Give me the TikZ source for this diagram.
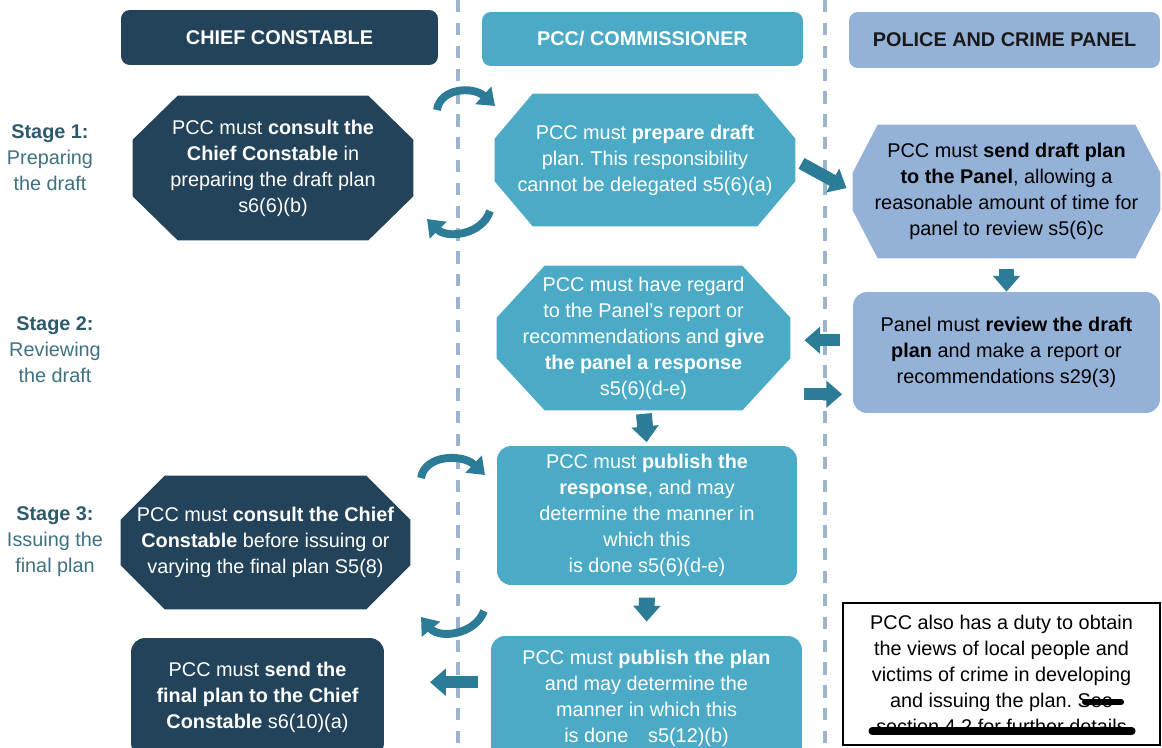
\documentclass[tikz,border=0pt]{standalone}
\usepackage{fontspec}
\setmainfont{Liberation Sans}
\usetikzlibrary{arrows.meta,positioning}
\frenchspacing

\definecolor{ccnavy}{HTML}{22435A}
\definecolor{pccteal}{HTML}{4BABC6}
\definecolor{panblue}{HTML}{94B2D8}
\definecolor{arrteal}{HTML}{2C7C97}
\definecolor{lanegrey}{HTML}{9DB5CC}
\definecolor{stagedark}{HTML}{2D5B6C}
\definecolor{stagetext}{HTML}{3F7182}

\pgfdeclarelayer{background}
\pgfsetlayers{background,main}

% octagon behind a node: node, colour, corner cut in x and y (px)
\newcommand{\octfill}[4]{%
  \begin{pgfonlayer}{background}
    \fill[#2] ([xshift={#3*0.02cm}]#1.north west) -- ([xshift={-#3*0.02cm}]#1.north east)
      -- ([yshift={-#4*0.02cm}]#1.north east) -- ([yshift={#4*0.02cm}]#1.south east)
      -- ([xshift={-#3*0.02cm}]#1.south east) -- ([xshift={#3*0.02cm}]#1.south west)
      -- ([yshift={#4*0.02cm}]#1.south west) -- ([yshift={-#4*0.02cm}]#1.north west) -- cycle;
  \end{pgfonlayer}}

\begin{document}
\begin{tikzpicture}
        [x=0.02cm,y=-0.02cm,
         every node/.style={font=\fontsize{11.3}{14.8}\selectfont,align=center,inner sep=0pt,rectangle},
         head/.style={rounded corners=5pt,font=\fontsize{11.3}{14.8}\selectfont\bfseries},
         cctext/.style={text=white},
         pcctext/.style={text=white},
         pantext/.style={text=black},
         ccbox/.style={cctext,fill=ccnavy},
         pccbox/.style={pcctext,fill=pccteal},
         panbox/.style={pantext,fill=panblue},
         roundbox/.style={rounded corners=8pt},
         stagelbl/.style={text=stagetext},
         blk/.style={draw=arrteal,line width=7pt,-{Triangle[length=9pt,width=15pt]}},
         curv/.style={draw=arrteal,line width=4.5pt,-{Triangle[length=9pt,width=13pt]}},
         lane/.style={draw=lanegrey,line width=1.8pt,dash pattern=on 7pt off 6pt}]

        \useasboundingbox (0,0) rectangle (1162,747);
        \begin{pgfonlayer}{background}
          \fill[white] (0,0) rectangle (1162,747);
        \end{pgfonlayer}

        % lane separators
        \draw[lane] (458,0) -- (458,747);
        \draw[lane] (825,0) -- (825,747);

        % column headings
        \node[head,ccbox,minimum width=6.34cm,minimum height=1.1cm] (hcc) at (279.5,37.5) {CHIEF CONSTABLE};
        \node[head,pccbox,minimum width=6.42cm,minimum height=1.08cm] (hpcc) at (642.5,39) {PCC/ COMMISSIONER};
        \node[head,panbox,text=black!90,minimum width=6.22cm,minimum height=1.12cm] (hpan) at (1004.5,40) {POLICE AND CRIME PANEL};

        % stages
        \node[stagelbl] (st1) at (50,158) {\textcolor{stagedark}{\textbf{Stage 1:}}\\Preparing\\the draft};
        \node[stagelbl] (st2) at (55,350) {\textcolor{stagedark}{\textbf{Stage 2:}}\\Reviewing\\the draft};
        \node[stagelbl] (st3) at (55,542) {\textcolor{stagedark}{\textbf{Stage 3:}}\\Issuing the\\final plan};

        % chief constable
        \node[cctext,minimum width=5.6cm,minimum height=2.88cm] (cc1) at (273,168) {PCC must \textbf{consult the}\\\textbf{Chief Constable} in\\preparing the draft plan\\s6(6)(b)};
        \node[cctext,minimum width=5.78cm,minimum height=2.66cm] (cc2) at (265.5,542.5) {PCC must \textbf{consult the Chief}\\\textbf{Constable} before issuing or\\varying the final plan S5(8)};
        \node[roundbox,ccbox,minimum width=5.06cm,minimum height=2.38cm] (cc3) at (257.5,697.5) {PCC must \textbf{send the}\\\textbf{final plan to the Chief}\\\textbf{Constable} s6(10)(a)};
        \octfill{cc1}{ccnavy}{45}{44}
        \octfill{cc2}{ccnavy}{44}{44}

        % commissioner
        \node[pcctext,minimum width=6cm,minimum height=2.64cm] (pcc1) at (645,160) {PCC must \textbf{prepare draft}\\plan. This responsibility\\cannot be delegated s5(6)(a)};
        \node[pcctext,minimum width=5.86cm,minimum height=2.88cm] (pcc2) at (643.5,338) {PCC must have regard\\to the Panel's report or\\recommendations and \textbf{give}\\\textbf{the panel a response}\\s5(6)(d-e)};
        \node[roundbox,pccbox,minimum width=6cm,minimum height=2.78cm] (pcc3) at (647,515.5) {PCC must \textbf{publish the}\\\textbf{response}, and may\\determine the manner in\\which this\\is done s5(6)(d-e)};
        \node[roundbox,pccbox,minimum width=6.22cm,minimum height=2.48cm] (pcc4) at (646.5,698) {PCC must \textbf{publish the plan}\\and may determine the\\manner in which this\\is done\quad s5(12)(b)};
        \octfill{pcc1}{pccteal}{38}{45}
        \octfill{pcc2}{pccteal}{48}{52}

        % panel
        \node[pantext,minimum width=6.14cm,minimum height=2.66cm] (pan1) at (1006.5,191.5) {PCC must \textbf{send draft plan}\\\textbf{to the Panel}, allowing a\\reasonable amount of time for\\panel to review s5(6)c};
        \node[roundbox,panbox,minimum width=6.14cm,minimum height=2.42cm] (pan2) at (1006.5,352.5) {Panel must \textbf{review the draft}\\\textbf{plan} and make a report or\\recommendations s29(3)};
        \octfill{pan1}{panblue}{25}{48}
        \node[draw=black,line width=1pt,fill=white,minimum width=6.34cm,minimum height=2.84cm] (note) at (1001.5,674) {PCC also has a duty to obtain\\the views of local people and\\victims of crime in developing\\and issuing the plan. See\\section 4.2 for further details};
        \draw[line width=3.5pt,line cap=round] (1085,702) -- (1121,702);
        \draw[line width=4pt,line cap=round] (872,731) -- (1132,731);

        % consultation loops across the lane
        \coordinate (lpa) at (437,110);
        \coordinate (lpb) at (495,106);
        \coordinate (lpc) at (490,211);
        \coordinate (lpd) at (427,219);
        \coordinate (lpe) at (421,478);
        \coordinate (lpf) at (485,475);
        \coordinate (lpg) at (484,611);
        \coordinate (lph) at (421,617);
        \draw[curv] (lpa) .. controls +(3,-22) and +(-22,-20) .. (lpb);
        \draw[curv] (lpc) .. controls +(-8,24) and +(20,20) .. (lpd);
        \draw[curv] (lpe) .. controls +(4,-24) and +(-22,-21) .. (lpf);
        \draw[curv] (lpg) .. controls +(-9,24) and +(18,22) .. (lph);

        % flow
        \draw[blk,shorten <=4pt,shorten >=4pt] (pcc1.east) -- (pan1.west);
        \draw[blk,line width=8pt,shorten <=6pt] (pan1.south) -- (pan2.north);
        \draw[blk,shorten <=7pt,shorten >=8pt] ([yshift=7pt]pan2.west) -- ([yshift=7pt]pan2.west -| pcc2.east);
        \draw[blk,shorten <=8pt,shorten >=6pt] ([yshift=-32pt]pcc2.east) -- ([yshift=-32pt]pcc2.east -| pan2.west);
        \draw[blk,line width=9pt,shorten <=2pt,shorten >=2pt] (pcc2.south) -- (pcc3.north);
        \draw[blk,line width=9pt,shorten <=7pt,shorten >=8pt] (pcc3.south) -- (pcc4.north);
        \draw[blk,shorten <=7pt,shorten >=26pt] ([yshift=9pt]pcc4.west) -- ([yshift=9pt]pcc4.west -| cc3.east);

      \end{tikzpicture}
\end{document}
